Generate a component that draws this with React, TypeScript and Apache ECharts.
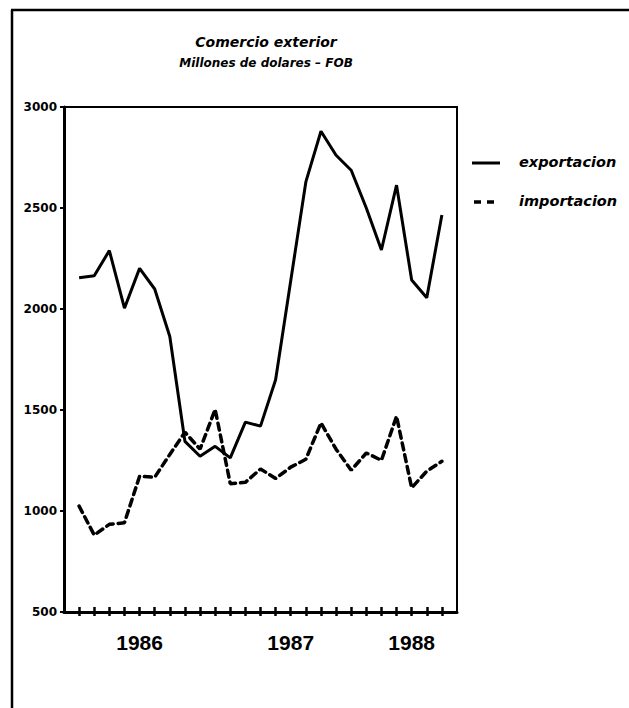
import React, { useEffect, useRef } from "react";
import * as echarts from "echarts";

const periods = [
  "p01", "p02", "p03", "p04", "p05", "p06", "p07", "p08", "p09", "p10",
  "p11", "p12", "p13", "p14", "p15", "p16", "p17", "p18", "p19", "p20",
  "p21", "p22", "p23", "p24", "p25",
];
const exportacion = [
  2155, 2165, 2289, 2004, 2201, 2099, 1864, 1345, 1271, 1320,
  1263, 1440, 1420, 1650, 2140, 2629, 2880, 2761, 2687, 2500,
  2292, 2613, 2144, 2056, 2465,
];
const importacion = [
  1024, 881, 934, 942, 1172, 1167, 1280, 1390, 1306, 1503,
  1135, 1142, 1208, 1161, 1217, 1256, 1436, 1306, 1202, 1287,
  1251, 1469, 1115, 1197, 1246,
];
const yearLabels = ["1986", "1987", "1988"];
const yearLabelIndex = [4, 14, 22];
const seriesNames = ["exportacion", "importacion"];
const titleText = "Comercio exterior";
const subtitleText = "Millones de dolares \u2013 FOB";
const yMin = 500;
const yMax = 3000;
const yStep = 500;

const HEAVY = "'DejaVu Sans', 'Liberation Sans', sans-serif";

export default function App() {
  const ref = useRef<HTMLDivElement>(null);
  useEffect(() => {
    if (!ref.current) return;
    const chart = echarts.init(ref.current, undefined, { renderer: "svg" });
    const idx = periods.map((_, i) => i);
    const legendText = {
      fontFamily: HEAVY,
      fontStyle: "italic",
      fontWeight: "bold",
      fontSize: 14.5,
      fill: "#000",
      textVerticalAlign: "middle",
    };
    chart.setOption({
      animation: false,
      backgroundColor: "#ffffff",
      title: [
        {
          text: titleText,
          left: 261,
          top: 30,
          textAlign: "center",
          textStyle: {
            fontFamily: HEAVY,
            fontStyle: "italic",
            fontWeight: "bold",
            fontSize: 14,
            color: "#000",
          },
        },
        {
          text: subtitleText,
          left: 261,
          top: 52,
          textAlign: "center",
          textStyle: {
            fontFamily: HEAVY,
            fontStyle: "italic",
            fontWeight: "bold",
            fontSize: 12,
            color: "#000",
          },
        },
      ],
      grid: {
        left: 64,
        right: 172,
        top: 107,
        bottom: 96,
        show: true,
        borderColor: "#000",
        borderWidth: 2,
        backgroundColor: "transparent",
      },
      xAxis: [
        {
          type: "value",
          min: -1,
          max: periods.length,
          interval: 1,
          splitLine: { show: false },
          axisLine: { show: true, onZero: false, lineStyle: { color: "#000", width: 3 } },
          axisTick: {
            show: true,
            length: 4,
            customValues: idx,
            lineStyle: { color: "#000", width: 2.5 },
          },
          axisLabel: {
            show: true,
            customValues: yearLabelIndex,
            margin: 20,
            formatter: (v: number) => {
              const k = yearLabelIndex.indexOf(Math.round(v));
              return k >= 0 ? yearLabels[k] : "";
            },
            fontFamily: "'Liberation Sans', Arial, sans-serif",
            fontWeight: "bold",
            fontSize: 21,
            color: "#000",
          },
        },
        {
          type: "value",
          min: -1,
          max: periods.length,
          interval: 1,
          position: "bottom",
          offset: 0,
          splitLine: { show: false },
          axisLine: { show: false, onZero: false },
          axisTick: {
            show: true,
            inside: true,
            length: 5,
            customValues: idx,
            lineStyle: { color: "#000", width: 2.5 },
          },
          axisLabel: { show: false },
        },
      ],
      yAxis: {
        type: "value",
        min: yMin,
        max: yMax,
        interval: yStep,
        splitLine: { show: false },
        axisLine: { show: true, onZero: false, lineStyle: { color: "#000", width: 3 } },
        axisTick: { show: true, length: 4, lineStyle: { color: "#000", width: 2 } },
        axisLabel: {
          margin: 7,
          formatter: (v: number) => String(v),
          fontFamily: HEAVY,
          fontWeight: "bold",
          fontSize: 12,
          color: "#000",
        },
      },
      series: [
        {
          name: seriesNames[0],
          type: "line",
          symbol: "none",
          xAxisIndex: 0,
          data: exportacion.map((v, i) => [i, v]),
          lineStyle: { color: "#000", width: 3, type: "solid" },
          itemStyle: { color: "#000" },
        },
        {
          name: seriesNames[1],
          type: "line",
          symbol: "none",
          xAxisIndex: 0,
          data: importacion.map((v, i) => [i, v]),
          lineStyle: { color: "#000", width: 3.5, type: [7, 5], cap: "round" },
          itemStyle: { color: "#000" },
        },
      ],
      graphic: [
        {
          type: "line",
          shape: { x1: 12, y1: 10, x2: 12, y2: 708 },
          style: { stroke: "#000", lineWidth: 2.5 },
        },
        {
          type: "line",
          shape: { x1: 11, y1: 10, x2: 629, y2: 10 },
          style: { stroke: "#000", lineWidth: 2.5 },
        },
        {
          type: "line",
          shape: { x1: 472, y1: 163, x2: 500, y2: 163 },
          style: { stroke: "#000", lineWidth: 3 },
        },
        {
          type: "line",
          shape: { x1: 474, y1: 202, x2: 500, y2: 202 },
          style: { stroke: "#000", lineWidth: 3.5, lineDash: [7, 6] },
        },
        {
          type: "text",
          x: 519,
          y: 162,
          style: { ...legendText, text: seriesNames[0] },
        },
        {
          type: "text",
          x: 519,
          y: 201,
          style: { ...legendText, text: seriesNames[1] },
        },
      ],
    });
    return () => chart.dispose();
  }, []);
  return (
    <div
      ref={ref}
      style={{ position: "absolute", left: 0, top: 0, width: 629, height: 708 }}
    />
  );
}
